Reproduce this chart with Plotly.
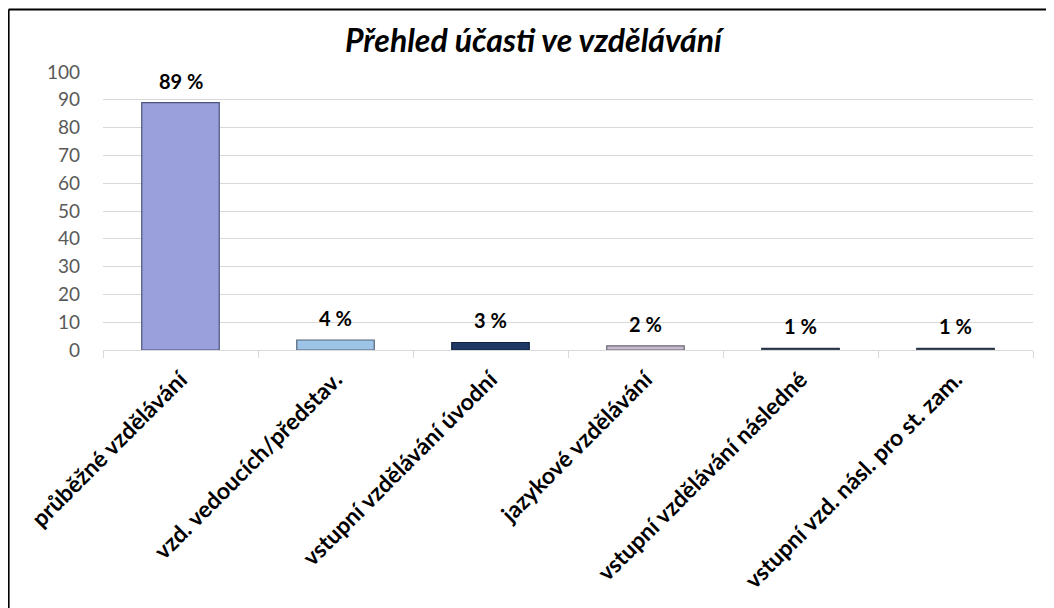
import plotly.graph_objects as go

categories = ["průběžné vzdělávání", "vzd. vedoucích/představ.", "vstupní vzdělávání úvodní",
              "jazykové vzdělávání", "vstupní vzdělávání následné", "vstupní vzd. násl. pro st. zam."]
values = [89, 3.6, 2.7, 1.5, 0.6, 0.6]
y_ticks = [0, 10, 20, 30, 40, 50, 60, 70, 80, 90, 100]
bar_colors = ["#9AA0DC", "#9DC3E6", "#1F3864", "#C4BCCC", "#44546A", "#44546A"]
edge_colors = ["#4E527E", "#55657A", "#10203F", "#6E6676", "#2A3447", "#2A3447"]
title = "Přehled účasti ve vzdělávání"

FONT = "Lato, Calibri, Open Sans, sans-serif"

fig = go.Figure()
fig.add_trace(go.Bar(
    x=categories, y=values,
    marker=dict(color=bar_colors, line=dict(color=edge_colors, width=1.2)),
    hoverinfo="skip",
))

for c, v in zip(categories, values):
    fig.add_annotation(x=c, y=v, text=f"<b>{round(v)} %</b>", showarrow=False,
                       yanchor="bottom", yshift=8,
                       font=dict(family=FONT, size=20, color="#000000"))

fig.add_annotation(xref="paper", yref="paper", x=0.4645, y=1.118, text=f"<b><i>{title}</i></b>",
                   showarrow=False, xanchor="center", yanchor="middle",
                   font=dict(family=FONT, size=32, color="#000000"))

# outer chart border (top and left edges visible; right/bottom lie outside the view)
fig.add_shape(type="line", xref="paper", yref="paper", x0=-0.1015, y0=1.225, x1=1.2, y1=1.225,
              line=dict(color="#000000", width=2), layer="above")
fig.add_shape(type="line", xref="paper", yref="paper", x0=-0.1015, y0=-1.2, x1=-0.1015, y1=1.225,
              line=dict(color="#000000", width=2), layer="above")

fig.update_layout(
    width=1054, height=608,
    margin=dict(l=95, r=29, t=64, b=266),
    paper_bgcolor="#FFFFFF", plot_bgcolor="#FFFFFF",
    bargap=0.5, showlegend=False,
    font=dict(family=FONT),
)
fig.update_xaxes(
    type="category", ticks="outside", tickson="boundaries", ticklen=7, tickcolor="#D9D9D9",
    tickangle=-45, tickfont=dict(family=FONT, size=23, color="#000000", weight="bold"),
    ticklabelstandoff=6,
    showline=True, linecolor="#D9D9D9", linewidth=1, showgrid=False,
)
fig.update_yaxes(
    range=[0, 100], tickvals=y_ticks, showgrid=True, gridcolor="#D9D9D9", gridwidth=1,
    tickfont=dict(family=FONT, size=19, color="#595959"), ticks="", ticklabelstandoff=22,
    zeroline=False, showline=False,
)

fig.write_html("out.html")
